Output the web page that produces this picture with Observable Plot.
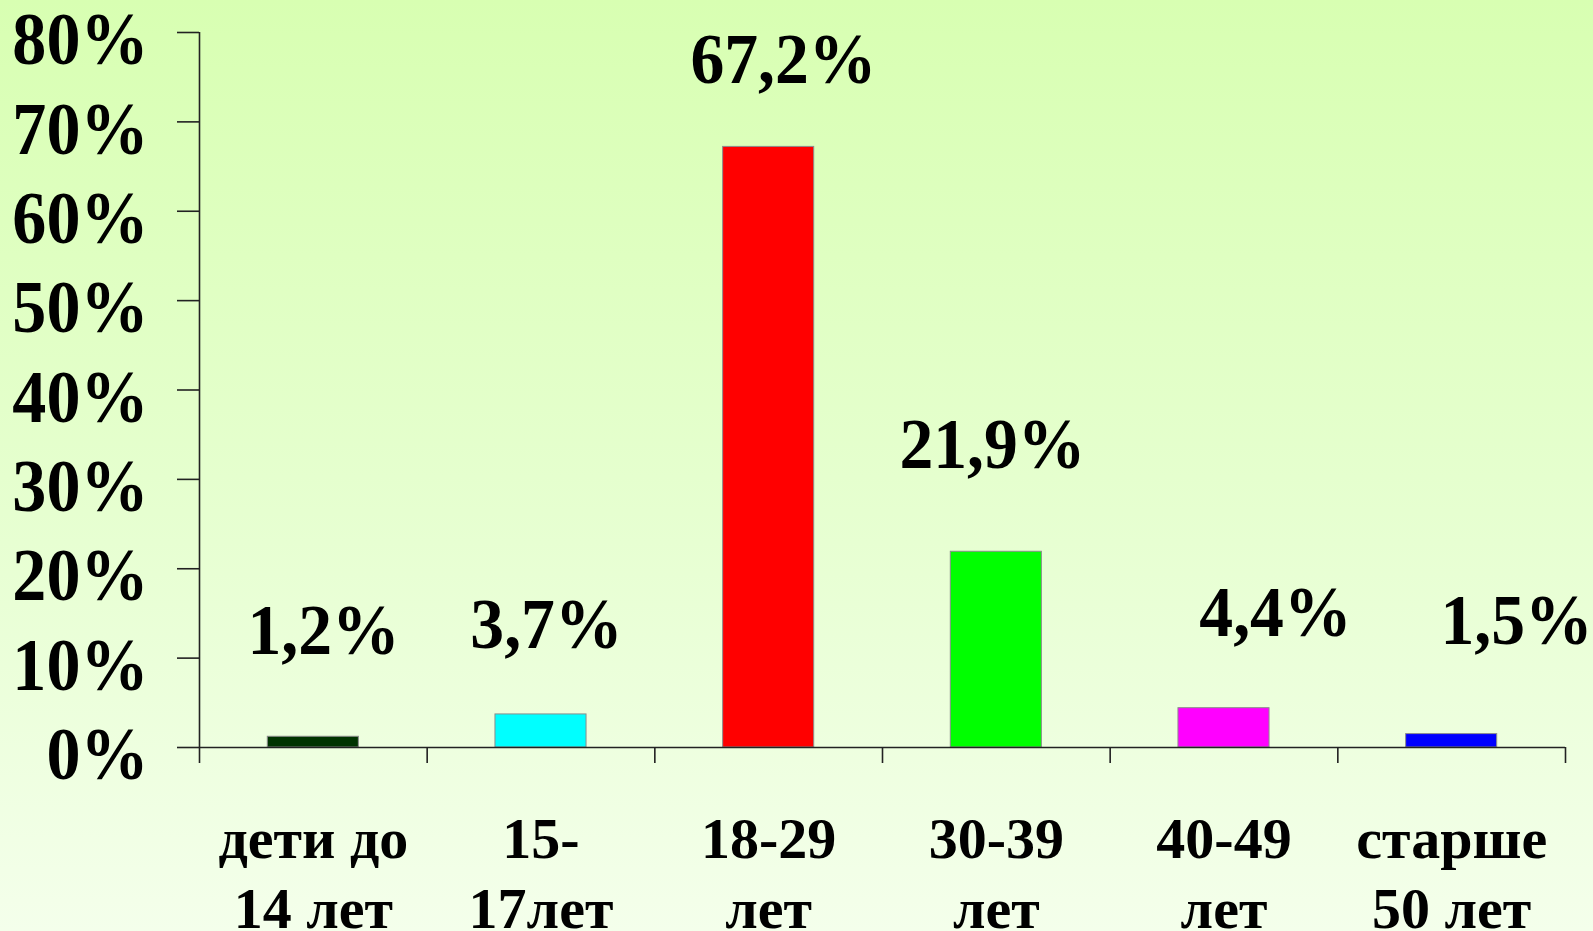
<!DOCTYPE html>
<html>
<head>
<meta charset="utf-8">
<script src="https://cdn.jsdelivr.net/npm/d3@7"></script>
<script src="https://cdn.jsdelivr.net/npm/@observablehq/plot@0.6"></script>
<style>
  html, body { margin: 0; padding: 0; }
  body {
    width: 1593px; height: 931px; overflow: hidden;
    background: linear-gradient(to bottom, #d8ffb2 0%, #e6ffd0 55%, #f4ffeb 100%);
  }
  #chart svg { display: block; background: transparent; }
</style>
</head>
<body>
<div id="chart"></div>
<script>
// ---- data ----
const categories = ["дети до\n14 лет", "15-\n17лет", "18-29\nлет", "30-39\nлет", "40-49\nлет", "старше\n50 лет"];
const values = [1.2, 3.7, 67.2, 21.9, 4.4, 1.5];
const valueLabels = ["1,2%", "3,7%", "67,2%", "21,9%", "4,4%", "1,5%"];
const barColors = ["#003300", "#00ffff", "#ff0000", "#00ff00", "#ff00ff", "#0000ff"];
const yTicks = [0, 10, 20, 30, 40, 50, 60, 70, 80];
const xBoundaries = [0, 1, 2, 3, 4, 5, 6];

// label placement (in scale units), as laid out in the original slide
const labelX = [0.545, 1.524, 2.565, 3.483, 4.726, 5.785];
const labelY = [10.5, 11.1, 74.4, 31.3, 12.5, 11.6];

const rows = categories.map((c, i) => ({
  i, cat: c, v: values[i], label: valueLabels[i], color: barColors[i], lx: labelX[i], ly: labelY[i]
}));

const font = "'Liberation Serif', 'Times New Roman', serif";

const plot = Plot.plot({
  width: 1593,
  height: 931,
  marginLeft: 199,
  marginRight: 28,
  marginTop: 32,
  marginBottom: 184,
  style: { background: "transparent", fontFamily: font, color: "#000", overflow: "visible" },
  x: { type: "linear", domain: [0, 6], label: null },
  y: { domain: [0, 80], label: null },
  color: { type: "identity" },
  marks: [
    Plot.rectY(rows, {
      x1: d => d.i + 0.3, x2: d => d.i + 0.7, y1: 0, y2: "v",
      fill: "color", stroke: "#8c8c8c", strokeWidth: 1
    }),
    Plot.ruleX([0], { y1: 0, y2: 80, stroke: "#222", strokeWidth: 1.6 }),
    Plot.ruleY([0], { x1: 0, x2: 6, stroke: "#222", strokeWidth: 1.6 }),
    // y ticks
    Plot.axisY({
      ticks: yTicks, tickFormat: () => "", tickSize: 22, stroke: "#222", strokeWidth: 1.6, label: null
    }),
    // y tick labels
    Plot.axisY({
      ticks: yTicks, tickFormat: d => d + "%", tickSize: 0, tickPadding: 51,
      fontSize: 74, fontWeight: "bold", dy: 8, fill: "#000", label: null
    }),
    Plot.axisX({
      ticks: xBoundaries, tickFormat: () => "", tickSize: 16, stroke: "#222", strokeWidth: 1.6, label: null
    }),
    Plot.text(rows, {
      x: d => d.i + 0.5, y: 0, text: "cat", lineAnchor: "bottom", dy: 180,
      fontSize: 58, fontWeight: "bold", lineHeight: 1.2, fill: "#000"
    }),
    Plot.text(rows, {
      x: "lx", y: "ly", text: "label", lineAnchor: "bottom",
      fontSize: 72, fontWeight: "bold", fill: "#000"
    })
  ]
});

document.getElementById("chart").appendChild(plot);

// horizontally condense the large numeric labels like the original slide font
function squeeze(selector, k) {
  plot.querySelectorAll(selector).forEach(t => {
    const tr = t.getAttribute("transform") || "";
    t.setAttribute("transform", `${tr} scale(${k},1)`);
  });
}
squeeze('g[font-size="74"] text', 0.92);
squeeze('g[font-size="72"] text', 0.94);
</script>
</body>
</html>
